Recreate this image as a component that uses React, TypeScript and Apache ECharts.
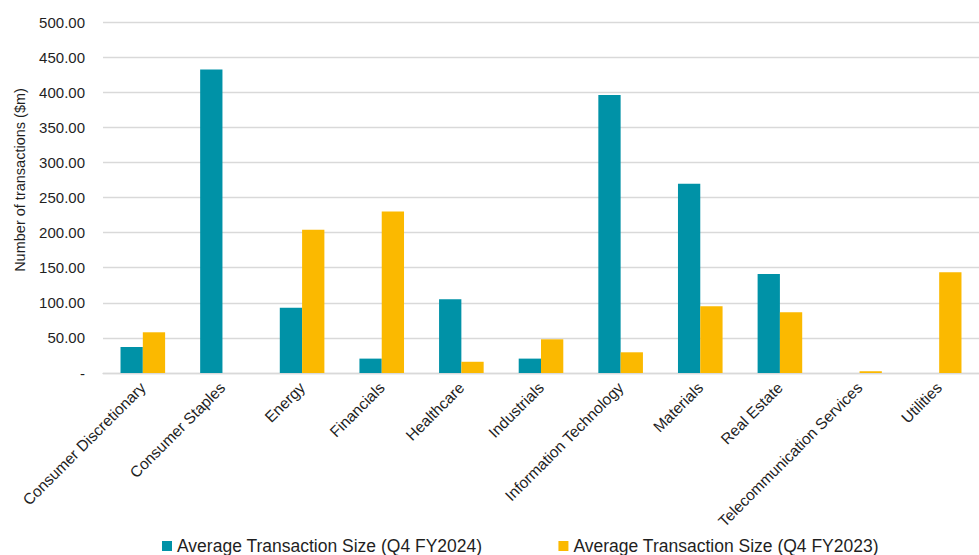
import React, { useEffect, useRef } from "react";
import * as echarts from "echarts";

const categories = [
  "Consumer Discretionary",
  "Consumer Staples",
  "Energy",
  "Financials",
  "Healthcare",
  "Industrials",
  "Information Technology",
  "Materials",
  "Real Estate",
  "Telecommunication Services",
  "Utilities",
];

const seriesNames = [
  "Average Transaction Size (Q4 FY2024)",
  "Average Transaction Size (Q4 FY2023)",
];

const fy2024 = [37.0, 432.5, 93.0, 20.5, 105.0, 20.5, 396.0, 269.5, 141.0, 0, 0];
const fy2023 = [58.0, 0, 204.0, 230.0, 16.0, 48.0, 29.5, 95.0, 86.5, 2.5, 143.5];

const yTicks = { min: 0, max: 500, interval: 50 };
const yAxisTitle = "Number of transactions ($m)";

const FONT = "'Liberation Sans', Arial, sans-serif";
const TEXT = "#1f1f1f";

export default function App() {
  const ref = useRef<HTMLDivElement>(null);

  useEffect(() => {
    document.body.style.margin = "0";
    if (!ref.current) return;
    const chart = echarts.init(ref.current, undefined, { renderer: "svg" });
    chart.setOption({
      animation: false,
      backgroundColor: "#ffffff",
      textStyle: { fontFamily: FONT, color: TEXT },
      grid: { left: 103, top: 22, bottom: 182, right: -9 },
      legend: {
        left: 157,
        top: 532,
        itemWidth: 10,
        itemHeight: 10,
        itemGap: 76,
        icon: "rect",
        textStyle: { fontFamily: FONT, fontSize: 17.5, color: TEXT },
        data: seriesNames,
      },
      graphic: [
        {
          type: "text",
          x: 20,
          y: 180,
          rotation: Math.PI / 2,
          style: {
            text: yAxisTitle,
            font: `14.5px ${FONT}`,
            fill: TEXT,
            align: "center",
            verticalAlign: "middle",
          },
        },
      ],
      xAxis: {
        type: "category",
        data: categories,
        boundaryGap: true,
        axisTick: { show: false },
        axisLine: { show: true, lineStyle: { color: "#d9d9d9", width: 1.3 } },
        axisLabel: {
          rotate: 45,
          interval: 0,
          margin: 12,
          fontSize: 15.5,
          fontFamily: FONT,
          color: TEXT,
        },
      },
      yAxis: {
        type: "value",
        min: yTicks.min,
        max: yTicks.max,
        interval: yTicks.interval,
        axisLine: { show: false },
        axisTick: { show: false },
        splitLine: { show: true, lineStyle: { color: "#d9d9d9", width: 1.3 } },
        axisLabel: {
          margin: 18,
          fontSize: 15,
          fontFamily: FONT,
          color: TEXT,
          formatter: (v: number) => (v === 0 ? "-" : v.toFixed(2)),
        },
      },
      series: [
        {
          name: seriesNames[0],
          type: "bar",
          data: fy2024,
          barWidth: "28%",
          barGap: "0%",
          itemStyle: { color: "#0092a7" },
        },
        {
          name: seriesNames[1],
          type: "bar",
          data: fy2023,
          barWidth: "28%",
          barGap: "0%",
          itemStyle: { color: "#fbb900" },
        },
      ],
    });
    return () => chart.dispose();
  }, []);

  return <div ref={ref} style={{ width: 979, height: 555 }} />;
}
